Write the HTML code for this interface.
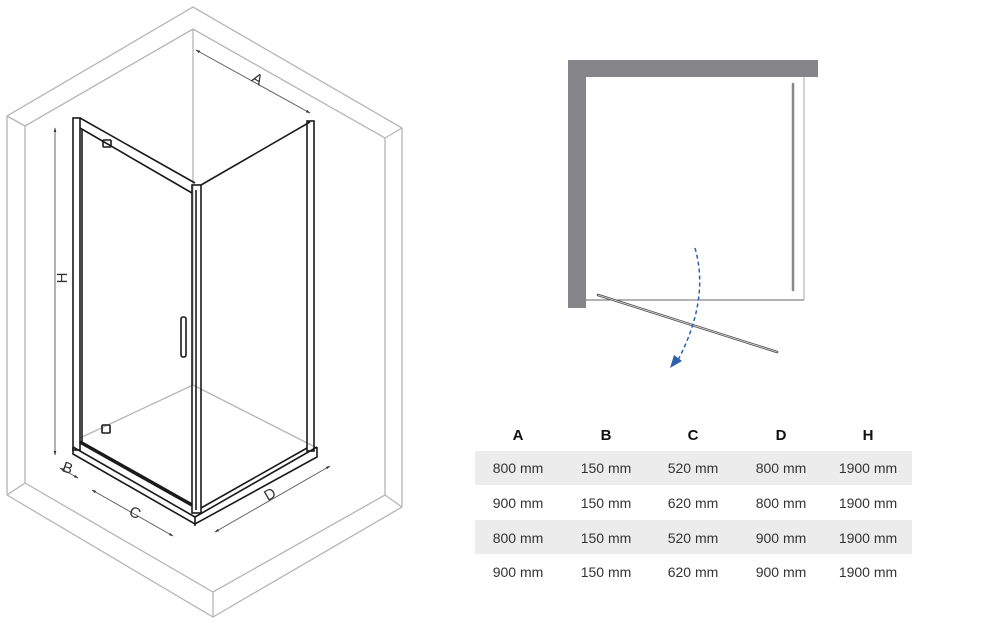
<!DOCTYPE html>
<html><head><style>
html,body{margin:0;padding:0;background:#fff;}
svg{display:block}
text{font-family:"Liberation Sans",sans-serif;}
</style></head><body>
<svg width="1000" height="625" viewBox="0 0 1000 625" xmlns="http://www.w3.org/2000/svg">
<defs>
<marker id="ar" viewBox="0 0 10 10" refX="9" refY="5" markerWidth="5" markerHeight="5" orient="auto-start-reverse"><path d="M0,2 L10,5 L0,8 z" fill="#333"/></marker>
</defs>
<g fill="none" stroke="#b5b5b5" stroke-width="1.3">
<polyline points="7,495 7,116 193,7 402,128 402,507 213,617 7,495"/>
<polyline points="25,483 25,126 193,29 385,138 385,495 213,592 25,483"/>
<line x1="213" y1="592" x2="213" y2="617"/>
<line x1="7" y1="116" x2="25" y2="126"/>
<line x1="402" y1="128" x2="385" y2="138"/>
<line x1="7" y1="495" x2="25" y2="483"/>
<line x1="402" y1="507" x2="385" y2="495"/>
<line x1="193" y1="29" x2="193" y2="385"/>
<line x1="193" y1="385" x2="80" y2="438"/>
<line x1="193" y1="385" x2="317" y2="448"/>
</g>
<g stroke="#555" stroke-width="0.9" fill="none">
<line x1="55" y1="128" x2="55" y2="455" marker-start="url(#ar)" marker-end="url(#ar)"/>
<line x1="196" y1="50" x2="310" y2="113" marker-start="url(#ar)" marker-end="url(#ar)"/>
<line x1="60" y1="468" x2="78" y2="478" marker-start="url(#ar)" marker-end="url(#ar)"/>
<line x1="92" y1="490" x2="173" y2="536" marker-start="url(#ar)" marker-end="url(#ar)"/>
<line x1="215" y1="532" x2="330" y2="466" marker-start="url(#ar)" marker-end="url(#ar)"/>
</g>
<g font-size="15" fill="#333">
<text x="253" y="84" transform="rotate(30 258 78)">A</text>
<text x="62" y="283" transform="rotate(-90 62 278)" text-anchor="middle">H</text>
<text x="63" y="473" transform="rotate(20 68 467)">B</text>
<text x="130" y="518" transform="rotate(25 136 512)">C</text>
<text x="264" y="499" transform="rotate(-30 270 493)">D</text>
</g>
<g fill="none" stroke="#1a1a1a" stroke-width="1.6">
<rect x="73" y="118" width="7" height="332"/>
<line x1="82" y1="130" x2="82" y2="442"/>
<polyline points="80,118 195,183"/>
<polyline points="80,128 192,193"/>
<rect x="192" y="185" width="9" height="328"/>
<line x1="196" y1="190" x2="196" y2="510"/>
<line x1="201" y1="185" x2="310" y2="122"/>
<rect x="307" y="121" width="7" height="330"/>
<polyline points="73,447 73,454 195,524 317,457 317,447"/>
<line x1="73" y1="447" x2="195" y2="517"/>
<line x1="195" y1="517" x2="317" y2="447"/>
<line x1="195" y1="517" x2="195" y2="526"/>
<line x1="80" y1="442" x2="192" y2="505" stroke-width="3.5"/>
<line x1="201" y1="508" x2="307" y2="448"/>
<rect x="181" y="317" width="5" height="40" rx="2"/>
<rect x="103" y="140" width="8" height="7" rx="1"/>
<rect x="102" y="425" width="8" height="8" rx="1"/>
</g>
<rect x="568" y="60" width="250" height="17" fill="#858589"/>
<rect x="568" y="60" width="18" height="248" fill="#858589"/>
<line x1="804" y1="77" x2="804" y2="300" stroke="#aaa" stroke-width="1"/>
<line x1="586" y1="300" x2="804" y2="300" stroke="#666" stroke-width="1"/>
<line x1="793" y1="84" x2="793" y2="290" stroke="#888" stroke-width="2.5" stroke-linecap="round"/>
<line x1="598" y1="295" x2="777" y2="352" stroke="#555" stroke-width="2.5" stroke-linecap="round"/>
<line x1="598" y1="295" x2="777" y2="352" stroke="#ddd" stroke-width="0.8"/>
<path d="M695,248 Q710,300 677,362" fill="none" stroke="#2a62ad" stroke-width="1.5" stroke-dasharray="4,3"/>
<polygon points="670,368 674,355 682,361" fill="#2a62ad"/>
<rect x="475" y="451" width="437" height="34" fill="#ececec"/>
<rect x="475" y="520" width="437" height="34" fill="#ececec"/>
<g font-size="15" font-weight="bold" fill="#111" text-anchor="middle">
<text x="518" y="440">A</text><text x="606" y="440">B</text><text x="693" y="440">C</text><text x="781" y="440">D</text><text x="868" y="440">H</text>
</g>
<g font-size="14" fill="#333" text-anchor="middle">
<text x="518" y="473">800 mm</text><text x="606" y="473">150 mm</text><text x="693" y="473">520 mm</text><text x="781" y="473">800 mm</text><text x="868" y="473">1900 mm</text>
<text x="518" y="508">900 mm</text><text x="606" y="508">150 mm</text><text x="693" y="508">620 mm</text><text x="781" y="508">800 mm</text><text x="868" y="508">1900 mm</text>
<text x="518" y="543">800 mm</text><text x="606" y="543">150 mm</text><text x="693" y="543">520 mm</text><text x="781" y="543">900 mm</text><text x="868" y="543">1900 mm</text>
<text x="518" y="577">900 mm</text><text x="606" y="577">150 mm</text><text x="693" y="577">620 mm</text><text x="781" y="577">900 mm</text><text x="868" y="577">1900 mm</text>
</g>
</svg>
</body></html>
